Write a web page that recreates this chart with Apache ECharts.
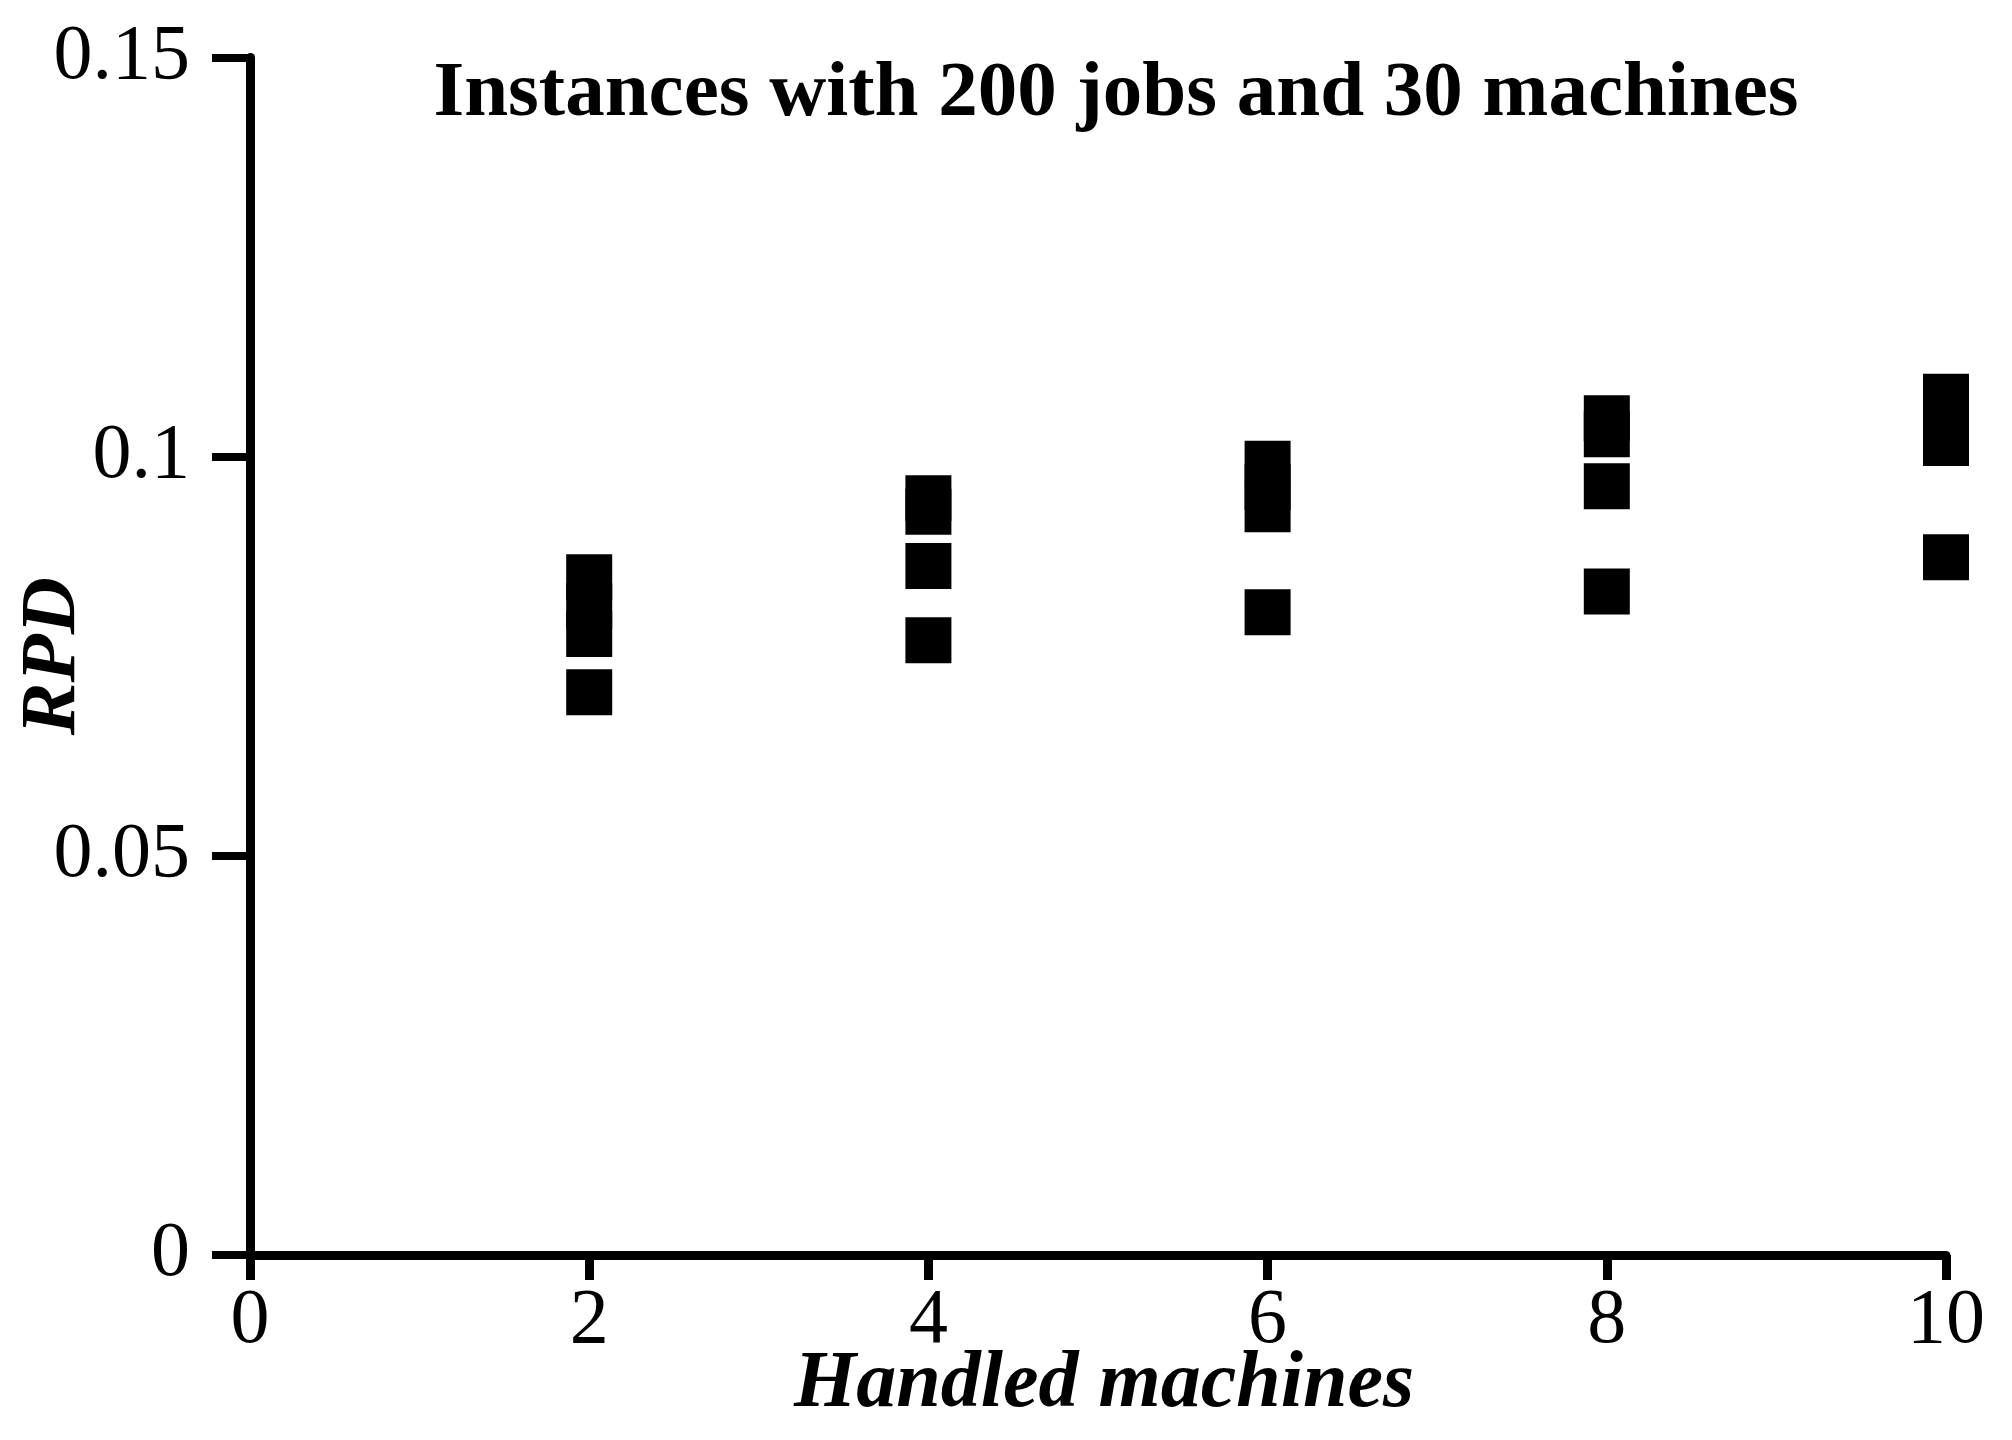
<!DOCTYPE html>
<html>
<head>
<meta charset="utf-8">
<script src="https://cdn.jsdelivr.net/npm/echarts@6/dist/echarts.min.js"></script>
<style>html,body{margin:0;padding:0;background:#fff;}#chart{width:2012px;height:1440px;}</style>
</head>
<body>
<div id="chart"></div>
<script>
const titleText = 'Instances with 200 jobs and 30 machines';
const xName = 'Handled machines';
const yName = 'RPD';
const handledMachines = [2, 4, 6, 8, 10];
const rpdAt2 = [0.0849, 0.0813, 0.0778, 0.0705];
const rpdAt4 = [0.0948, 0.0931, 0.0863, 0.0770];
const rpdAt6 = [0.0991, 0.0962, 0.0934, 0.0805];
const rpdAt8 = [0.1048, 0.1028, 0.0963, 0.0831];
const rpdAt10 = [0.1075, 0.1046, 0.1017, 0.0874];
const rpdGroups = [rpdAt2, rpdAt4, rpdAt6, rpdAt8, rpdAt10];

const points = [];
handledMachines.forEach((x, i) => rpdGroups[i].forEach(v => points.push([x, v])));

const FONT = 'Liberation Serif, Times New Roman, serif';
const chart = echarts.init(document.getElementById('chart'), null, {renderer: 'canvas'});
chart.setOption({
  animation: false,
  backgroundColor: '#fff',
  title: {
    text: titleText,
    left: 1111, top: 50, textAlign: 'center',
    textStyle: {fontFamily: FONT, fontWeight: 'bold', fontSize: 79, color: '#000'}
  },
  grid: {left: 250, right: 66, top: 57.5, bottom: 185, containLabel: false, outerBoundsMode: 'none'},
  xAxis: {
    type: 'value', min: 0, max: 10, interval: 2,
    name: xName, nameLocation: 'middle', nameGap: 90, nameMoveOverlap: false,
    nameTextStyle: {fontFamily: FONT, fontWeight: 'bold', fontStyle: 'italic', fontSize: 80, color: '#000', padding: [0, 0, 0, 12]},
    axisLine: {show: true, onZero: false, lineStyle: {color: '#000', width: 9}},
    axisTick: {show: true, inside: false, length: 25, lineStyle: {color: '#000', width: 9}},
    axisLabel: {margin: 28, fontFamily: FONT, fontSize: 78, color: '#000'},
    splitLine: {show: false}
  },
  yAxis: {
    type: 'value', min: 0, max: 0.15, interval: 0.05,
    name: yName, nameLocation: 'middle', nameGap: 157, nameRotate: 90, nameMoveOverlap: false,
    nameTextStyle: {fontFamily: FONT, fontWeight: 'bold', fontStyle: 'italic', fontSize: 79, color: '#000'},
    axisLine: {show: true, onZero: false, lineStyle: {color: '#000', width: 9}},
    axisTick: {show: true, inside: false, length: 38, lineStyle: {color: '#000', width: 8}},
    axisLabel: {margin: 60, fontFamily: FONT, fontSize: 78, color: '#000'},
    splitLine: {show: false}
  },
  series: [{
    type: 'scatter',
    symbol: 'rect',
    symbolSize: 46,
    itemStyle: {color: '#000', opacity: 1},
    data: points
  }]
});
</script>
</body>
</html>
